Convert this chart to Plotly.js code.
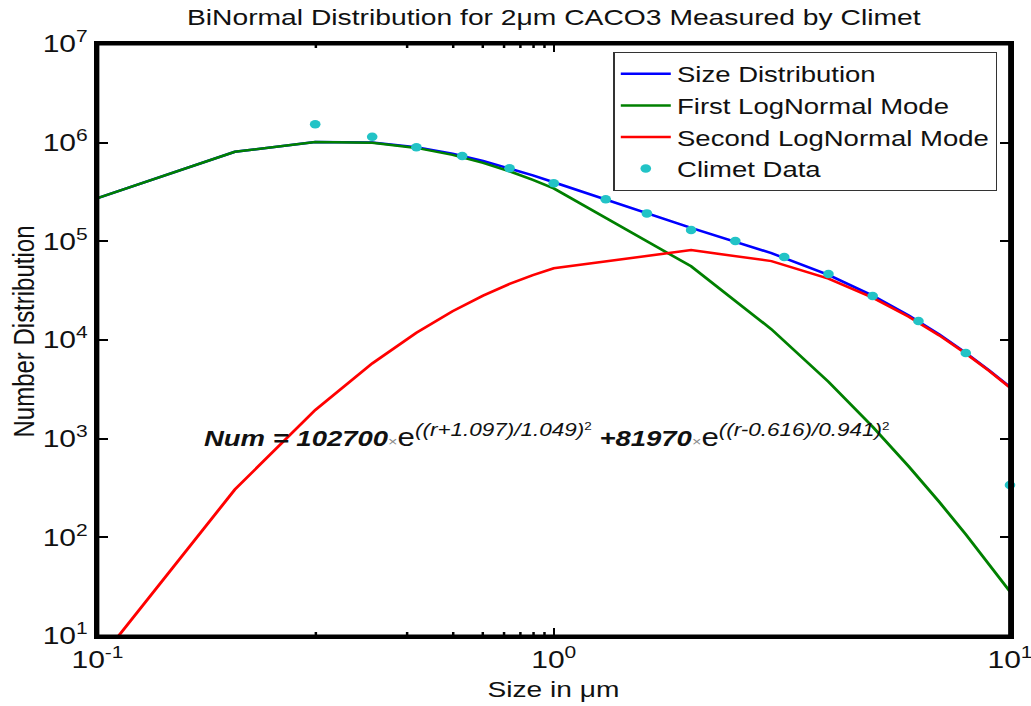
<!DOCTYPE html>
<html>
<head>
<meta charset="utf-8">
<script src="https://cdn.plot.ly/plotly-3.0.1.min.js"></script>
<style>
  html, body { margin: 0; padding: 0; background: #fff; overflow: hidden; }
  /* the figure is laid out narrow and widened horizontally, like the printed original */
  #chart { width: 830px; height: 706px; transform: scaleX(1.25); transform-origin: 0 0; }
</style>
</head>
<body>
<div id="chart"></div>
<script>
// Fitted curves, evaluated on the model grid (size in µm)
const sizeGrid   = [0.1, 0.2, 0.3, 0.4, 0.5, 0.6, 0.7, 0.8, 0.9, 1, 2, 3, 4, 5, 6, 7, 8, 9, 10];
const sizeDist   = [274000, 809000, 1018000, 1003000, 897000, 772000, 652000, 550000, 466000, 397000,
                    137200, 75900, 45700, 28200, 17700, 11360, 7400, 4920, 3330];
const firstMode  = [274000, 809000, 1016000, 997000, 885000, 752000, 624000, 513000, 420000, 344000,
                    55800, 12850, 3780, 1320, 522, 228, 107, 53.6, 28.2];
const secondMode = [5.4, 305, 1950, 5780, 11840, 19540, 28160, 37010, 45540, 53400,
                    81420, 63010, 41940, 26890, 17210, 11130, 7290, 4870, 3300];

// Measured counts from the Climet counter
const climetSize  = [0.3, 0.4, 0.5, 0.63, 0.8, 1.0, 1.3, 1.6, 2.0, 2.5, 3.2, 4.0, 5.0, 6.3, 8.0, 10.0];
const climetCount = [1535000, 1148000, 897000, 733000, 550000, 387000, 267000, 192000, 130000, 101000,
                     69300, 46700, 27900, 15600, 7380, 339];

// Decade ticks and their labels
const xDecades = [0.1, 1, 10];
const xDecadeText = ['10<sup>-1</sup>', '10<sup>0</sup>', '10<sup>1</sup>'];
const yDecades = [1e1, 1e2, 1e3, 1e4, 1e5, 1e6, 1e7];
const yDecadeText = ['10<sup>1</sup>', '10<sup>2</sup>', '10<sup>3</sup>', '10<sup>4</sup>',
                     '10<sup>5</sup>', '10<sup>6</sup>', '10<sup>7</sup>'];

// minor tick positions: 2..9 inside every decade
function minorTicks(decades) {
  const out = [];
  for (let i = 0; i < decades.length - 1; i++) {
    for (let m = 2; m <= 9; m++) out.push(m * decades[i]);
  }
  return out;
}
const xMinor = minorTicks(xDecades);
const yMinor = minorTicks(yDecades);

const FONT = 'Liberation Sans, Arial, Helvetica, sans-serif';

const traces = [
  { x: sizeGrid, y: sizeDist, name: 'Size Distribution', mode: 'lines',
    line: { color: '#0000ff', width: 2.5 } },
  { x: sizeGrid, y: firstMode, name: 'First LogNormal Mode', mode: 'lines',
    line: { color: '#008000', width: 2.5 } },
  { x: sizeGrid, y: secondMode, name: 'Second LogNormal Mode', mode: 'lines',
    line: { color: '#ff0000', width: 2.5 } },
  { x: climetSize, y: climetCount, name: 'Climet Data', mode: 'markers', cliponaxis: false,
    marker: { color: '#22c3c6', size: 8.5 } }
];

function logAxis(range, decades, labels) {
  return {
    type: 'log', range: range, automargin: false,
    showgrid: false, zeroline: false,
    showline: true, linecolor: '#000', linewidth: 3, mirror: 'allticks',
    ticks: 'inside', ticklen: 8, tickwidth: 2, tickcolor: '#000',
    tickmode: 'array', tickvals: decades, ticktext: labels, tickangle: 0,
    tickfont: { family: FONT, size: 24, color: '#111' }
  };
}

// boxed frame with inward ticks on all four sides (long at decades, short in between)
function frameShapes() {
  const shapes = [{
    type: 'rect', xref: 'paper', yref: 'paper', x0: 0, x1: 1, y0: 0, y1: 1,
    line: { color: '#000', width: 3 }, fillcolor: 'rgba(0,0,0,0)', layer: 'above'
  }];
  const xTick = (v, len, w) => [0, 1].forEach(side => shapes.push({
    type: 'line', xref: 'x', yref: 'paper', x0: Math.log10(v), x1: Math.log10(v),
    ysizemode: 'pixel', yanchor: side, y0: 0, y1: side ? -len : len,
    line: { color: '#000', width: w }, layer: 'above'
  }));
  const yTick = (v, len, w) => [0, 1].forEach(side => shapes.push({
    type: 'line', xref: 'paper', yref: 'y', y0: Math.log10(v), y1: Math.log10(v),
    xsizemode: 'pixel', xanchor: side, x0: 0, x1: side ? -len : len,
    line: { color: '#000', width: w }, layer: 'above'
  }));
  xDecades.slice(1, -1).forEach(v => xTick(v, 8, 2));
  xMinor.forEach(v => xTick(v, 4, 2));
  yDecades.slice(1, -1).forEach(v => yTick(v, 8, 2));
  yMinor.forEach(v => yTick(v, 4, 1.5));
  return shapes;
}

const layout = {
  width: 830,
  height: 706,
  margin: { l: 78, r: 22, t: 44, b: 70 },
  paper_bgcolor: '#fff',
  plot_bgcolor: '#fff',
  font: { family: FONT, color: '#111' },
  title: {
    text: 'BiNormal Distribution for 2\u03bcm CACO3 Measured by Climet',
    font: { family: FONT, size: 22.6, color: '#111' },
    xref: 'paper', x: 0.5, xanchor: 'center',
    yref: 'container', y: 1 - 17 / 706, yanchor: 'middle'
  },
  xaxis: logAxis([-1, 1], xDecades, xDecadeText),
  yaxis: logAxis([1, 7], yDecades, yDecadeText),
  shapes: frameShapes(),
  showlegend: true,
  legend: {
    x: 0.9858, y: 0.9865, xanchor: 'right', yanchor: 'top',
    bgcolor: '#fff', bordercolor: '#333', borderwidth: 1,
    font: { family: FONT, size: 22, color: '#111' },
    itemwidth: 40
  },
  annotations: [
    { // x-axis title
      xref: 'paper', yref: 'paper', x: 0.5, y: -0.0912, xanchor: 'center', yanchor: 'middle',
      showarrow: false, text: 'Size in \u03bcm', font: { family: FONT, size: 22.5, color: '#111' }
    },
    { // y-axis title
      xref: 'paper', yref: 'paper', x: -0.0816, y: 0.515, xanchor: 'center', yanchor: 'middle',
      showarrow: false, textangle: -90, text: 'Number Distribution',
      font: { family: FONT, size: 24, color: '#111' }
    },
    { // fitted model
      xref: 'paper', yref: 'paper', x: 0.1134, y: 0.338, xanchor: 'left', yanchor: 'middle',
      showarrow: false,
      font: { family: FONT, size: 22, color: '#111' },
      text: '<b><i>Num = 102700</i></b><span style="font-size:13px;color:#888">\u00d7</span>' +
            '<span style="font-size:25px">e</span>' +
            '<sup><i><span style="font-size:18px">((r+1.097)/1.049)</span></i><sup>2</sup></sup> ' +
            '<b><i>+81970</i></b><span style="font-size:13px;color:#888">\u00d7</span>' +
            '<span style="font-size:25px">e</span>' +
            '<sup><i><span style="font-size:18px">((r-0.616)/0.941)</span></i><sup>2</sup></sup>'
    }
  ]
};

Plotly.newPlot('chart', traces, layout, { staticPlot: true, displayModeBar: false });
</script>
</body>
</html>
